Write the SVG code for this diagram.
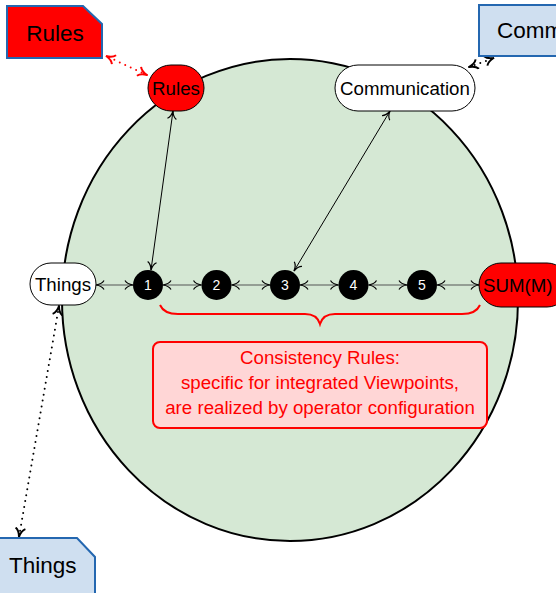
<svg xmlns="http://www.w3.org/2000/svg" width="556" height="593" viewBox="0 0 556 593">
<style>
.t{font-family:"Liberation Sans",Arial,sans-serif;fill:#000}
.n{font-family:"Liberation Sans",Arial,sans-serif;fill:#fff;font-size:14px;text-anchor:middle}
.ln{fill:none;stroke:#000;stroke-width:1}
.hl{fill:none;stroke:#555;stroke-width:1.2}
.dot{fill:none;stroke:#000;stroke-width:2;stroke-dasharray:0 6;stroke-linecap:round}
.dotr{fill:none;stroke:#f00;stroke-width:2;stroke-dasharray:0 6;stroke-linecap:round}
</style>
<defs>
<marker id="a" viewBox="0 0 10 10" refX="9" refY="5" markerWidth="10" markerHeight="10" markerUnits="userSpaceOnUse" orient="auto-start-reverse">
<path d="M1,0.5 Q3,4 9,5 Q3,6 1,9.5" fill="none" stroke="#000" stroke-width="1.2"/>
</marker>
<marker id="ar" viewBox="0 0 10 10" refX="9" refY="5" markerWidth="11" markerHeight="11" markerUnits="userSpaceOnUse" orient="auto-start-reverse">
<path d="M1,0.5 Q3,4 9,5 Q3,6 1,9.5" fill="none" stroke="#f00" stroke-width="1.8"/>
</marker>
<marker id="ab" viewBox="0 0 10 10" refX="9" refY="5" markerWidth="11" markerHeight="11" markerUnits="userSpaceOnUse" orient="auto-start-reverse">
<path d="M1,0.5 Q3,4 9,5 Q3,6 1,9.5" fill="none" stroke="#000" stroke-width="1.8"/>
</marker>
</defs>

<g id="viewpoint-circle">
<ellipse cx="290" cy="300" rx="228" ry="241" fill="#d5e8d4" stroke="#000" stroke-width="2"/>
</g>

<g id="connectors">
<line class="hl" x1="96" y1="285" x2="133" y2="285" marker-start="url(#a)" marker-end="url(#a)"/>
<line class="hl" x1="163" y1="285" x2="201.5" y2="285" marker-start="url(#a)" marker-end="url(#a)"/>
<line class="hl" x1="231.5" y1="285" x2="270" y2="285" marker-start="url(#a)" marker-end="url(#a)"/>
<line class="hl" x1="300" y1="285" x2="338.5" y2="285" marker-start="url(#a)" marker-end="url(#a)"/>
<line class="hl" x1="368.5" y1="285" x2="407" y2="285" marker-start="url(#a)" marker-end="url(#a)"/>
<line class="hl" x1="437" y1="285" x2="479" y2="285" marker-start="url(#a)" marker-end="url(#a)"/>
<line class="ln" x1="173" y1="111" x2="151" y2="270" marker-start="url(#a)" marker-end="url(#a)"/>
<line class="ln" x1="390" y1="111" x2="294" y2="271" marker-start="url(#a)" marker-end="url(#a)"/>
<line class="dotr" x1="147" y1="75" x2="106" y2="56" marker-start="url(#ar)" marker-end="url(#ar)"/>
<line class="dot" x1="469" y1="67" x2="494" y2="58" marker-start="url(#ab)" marker-end="url(#ab)"/>
<line class="dot" x1="59" y1="306" x2="19" y2="537" marker-start="url(#ab)" marker-end="url(#ab)"/>
<path d="M160,305 Q164,314 178,314 H305 Q317,314 320,324 Q323,314 335,314 H462 Q476,314 480,305" fill="none" stroke="#f00" stroke-width="2"/>
</g>

<g id="rules-box">
<path d="M7,6 H83 L102,24 V58 H7 Z" fill="#f00" stroke="#2467b0" stroke-width="2"/>
<text class="t" x="55" y="41" font-size="22.5" text-anchor="middle">Rules</text>
</g>

<g id="comm-box">
<rect x="479" y="5" width="100" height="51" fill="#cfdff0" stroke="#2467b0" stroke-width="2"/>
<text class="t" x="497" y="38" font-size="22.5">Comm</text>
</g>

<g id="things-box">
<path d="M-2,538 H77 L95,557 V600 H-2 Z" fill="#cfdff0" stroke="#2467b0" stroke-width="2"/>
<text class="t" x="9" y="573" font-size="22.5">Things</text>
</g>

<g id="rules-node">
<rect x="148" y="65" width="56" height="46" rx="23" fill="#f00" stroke="#000" stroke-width="1"/>
<text class="t" x="176" y="94.5" font-size="18.7" text-anchor="middle">Rules</text>
</g>

<g id="communication-node">
<rect x="335" y="65" width="140" height="46" rx="23" fill="#fff" stroke="#000" stroke-width="1"/>
<text class="t" x="405" y="94.5" font-size="18.7" text-anchor="middle">Communication</text>
</g>

<g id="things-node">
<rect x="30" y="263" width="66" height="42" rx="21" fill="#fff" stroke="#000" stroke-width="1"/>
<text class="t" x="63" y="291" font-size="18.7" text-anchor="middle">Things</text>
</g>

<g id="sum-node">
<rect x="479" y="263" width="90" height="44" rx="22" fill="#f00" stroke="#000" stroke-width="1"/>
<text class="t" x="483" y="291.5" font-size="18.7">SUM(M)</text>
</g>

<g id="op1"><circle cx="148" cy="285" r="15" fill="#000"/><text class="n" x="148" y="290">1</text></g>
<g id="op2"><circle cx="216.5" cy="285" r="15" fill="#000"/><text class="n" x="216.5" y="290">2</text></g>
<g id="op3"><circle cx="285" cy="285" r="15" fill="#000"/><text class="n" x="285" y="290">3</text></g>
<g id="op4"><circle cx="353.5" cy="285" r="15" fill="#000"/><text class="n" x="353.5" y="290">4</text></g>
<g id="op5"><circle cx="422" cy="285" r="15" fill="#000"/><text class="n" x="422" y="290">5</text></g>

<g id="consistency-note">
<rect x="153" y="342" width="334" height="86" rx="7" fill="#ffd6d6" stroke="#f00" stroke-width="2"/>
<text class="t" x="320" y="364" font-size="18.7" text-anchor="middle" style="fill:#f00">Consistency Rules:</text>
<text class="t" x="320" y="389" font-size="18.7" text-anchor="middle" style="fill:#f00">specific for integrated Viewpoints,</text>
<text class="t" x="320" y="414" font-size="18.7" text-anchor="middle" style="fill:#f00">are realized by operator configuration</text>
</g>
</svg>
